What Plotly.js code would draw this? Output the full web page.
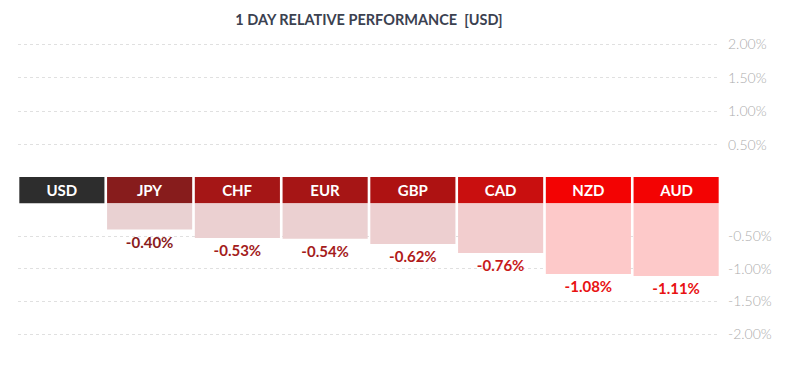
<!DOCTYPE html>
<html>
<head>
<meta charset="utf-8">
<script src="https://cdn.plot.ly/plotly-3.0.1.min.js"></script>
<style>
  html, body { margin: 0; padding: 0; background: #fff; }
  #chart { width: 800px; height: 386px; }
</style>
</head>
<body>
<div id="chart"></div>
<script>
// ---- data ----
const currencies = ["USD", "JPY", "CHF", "EUR", "GBP", "CAD", "NZD", "AUD"];
const performance = [null, -0.40, -0.53, -0.54, -0.62, -0.76, -1.08, -1.11];
const headerColors = ["#2d2d2d", "#871c1c", "#a51616", "#a61515", "#ae1212", "#c90f0f", "#f30303", "#f30303"];
const barColors = ["rgba(0,0,0,0)", "#e9d1d2", "#ebd0d1", "#ebd0d1", "#edcfd0", "#f2cdce", "#fdc9c9", "#fdc9c9"];
const labelColors = ["#000", "#8a1c1c", "#a31c1c", "#a51c1c", "#b01a1a", "#c81a1a", "#e81212", "#e81212"];
const upperTicks = [0.5, 1.0, 1.5, 2.0];
const upperTickText = ["0.50%", "1.00%", "1.50%", "2.00%"];
const lowerTicks = [-0.5, -1.0, -1.5, -2.0];
const lowerTickText = ["-0.50%", "-1.00%", "-1.50%", "-2.00%"];
const titleText = "1 DAY RELATIVE PERFORMANCE&nbsp; [USD]";

const valueLabels = performance.map(v => v === null ? "" : v.toFixed(2) + "%");
const headerHeights = currencies.map(() => 1);

const FONT = "Lato, 'Open Sans', sans-serif";

const traces = [
  // invisible trace to keep the upper axis alive
  {
    type: "scatter", mode: "markers", x: currencies, y: performance,
    yaxis: "y", xaxis: "x", marker: { opacity: 0 }, hoverinfo: "skip", showlegend: false
  },
  // header tiles
  {
    type: "bar", x: currencies, y: headerHeights, yaxis: "y3", xaxis: "x",
    marker: { color: headerColors, line: { width: 0 } },
    text: currencies, textposition: "inside", insidetextanchor: "middle",
    textangle: 0, constraintext: "none",
    textfont: { family: FONT, size: 15, color: "#ffffff", weight: "bold" },
    hoverinfo: "skip", showlegend: false
  },
  // performance bars
  {
    type: "bar", x: currencies, y: performance, yaxis: "y2", xaxis: "x",
    marker: { color: barColors, line: { width: 0 } },
    text: valueLabels, textposition: "outside", textangle: 0, constraintext: "none",
    cliponaxis: false,
    textfont: { family: FONT, size: 15, color: labelColors, weight: "bold" },
    hoverinfo: "skip", showlegend: false
  }
];

const gridStyle = { showgrid: true, gridcolor: "#e0e0e0", griddash: "dot", gridwidth: 1 };

const layout = {
  width: 800, height: 386,
  margin: { l: 18, r: 80, t: 0, b: 0, pad: 0 },
  paper_bgcolor: "#ffffff", plot_bgcolor: "#ffffff",
  bargap: 0.03,
  showlegend: false,
  font: { family: FONT },
  title: {
    text: titleText, x: 0.5, xref: "paper", xanchor: "center",
    y: 1 - 20 / 386, yref: "container", yanchor: "middle",
    font: { family: FONT, size: 14.5, color: "#3b4150", weight: "bold" }
  },
  xaxis: {
    range: [-0.5, 7.5], showticklabels: false, showgrid: false, zeroline: false,
    showline: false, ticks: "", fixedrange: true
  },
  yaxis: Object.assign({
    domain: [0.5389, 0.8933], range: [0, 2.05], side: "right", anchor: "x",
    tickmode: "array", tickvals: upperTicks, ticktext: upperTickText,
    zeroline: false, showline: false, ticks: "", ticklabelstandoff: 7,
    tickfont: { family: FONT, size: 14, color: "#acacac", weight: 300 }
  }, gridStyle),
  yaxis2: Object.assign({
    domain: [0.1262, 0.4728], range: [-2.05, 0], side: "right", anchor: "x",
    tickmode: "array", tickvals: lowerTicks, ticktext: lowerTickText,
    zeroline: false, showline: false, ticks: "", ticklabelstandoff: 7,
    tickfont: { family: FONT, size: 14, color: "#acacac", weight: 300 }
  }, gridStyle),
  yaxis3: {
    domain: [0.4728, 0.5415], range: [0, 1], anchor: "x",
    showticklabels: false, showgrid: false, zeroline: false, showline: false, ticks: ""
  }
};

Plotly.newPlot("chart", traces, layout, { staticPlot: true, displayModeBar: false });
</script>
</body>
</html>
